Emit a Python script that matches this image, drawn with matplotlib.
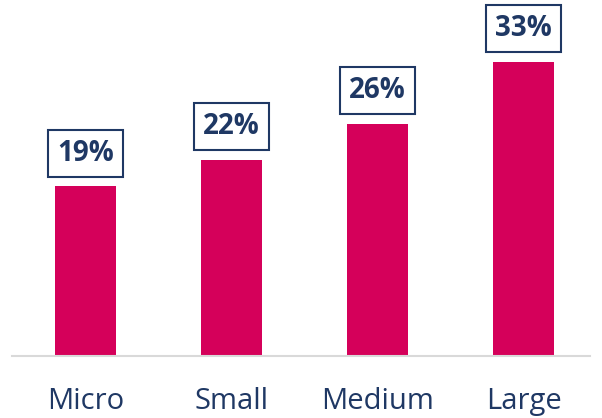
import matplotlib.pyplot as plt

categories = ["Micro", "Small", "Medium", "Large"]
shares = [19, 22, 26, 33]

bar_color = "#D5005A"
navy = "#1F3864"

fig = plt.figure(figsize=(6.02, 4.18), dpi=100)
ax = fig.add_axes([12 / 602, 62 / 418, 578 / 602, 356 / 418])

x = list(range(len(categories)))
ax.bar(x, shares, width=0.418, color=bar_color, zorder=2)

# boxed percentage above each bar
for xi, v in zip(x, shares):
    ax.annotate("{}%".format(v), (xi, v), xytext=(0, 24), textcoords="offset points",
                ha="center", va="center", fontsize=20, fontweight="bold",
                family="Open Sans", color=navy,
                bbox=dict(boxstyle="square,pad=0.32", fc="white", ec=navy, lw=1.5))

ax.set_xlim(-0.503, 3.455)
ax.set_ylim(0, 39.9)
ax.set_xticks(x)
ax.set_xticklabels(categories, family="Open Sans", fontsize=21, color=navy)
ax.tick_params(axis="x", length=0, pad=22)
ax.set_yticks([])
for side in ["top", "right", "left"]:
    ax.spines[side].set_visible(False)
ax.spines["bottom"].set_color("#D9D9D9")
ax.spines["bottom"].set_linewidth(1.5)

fig.savefig("out.png", dpi=100)
